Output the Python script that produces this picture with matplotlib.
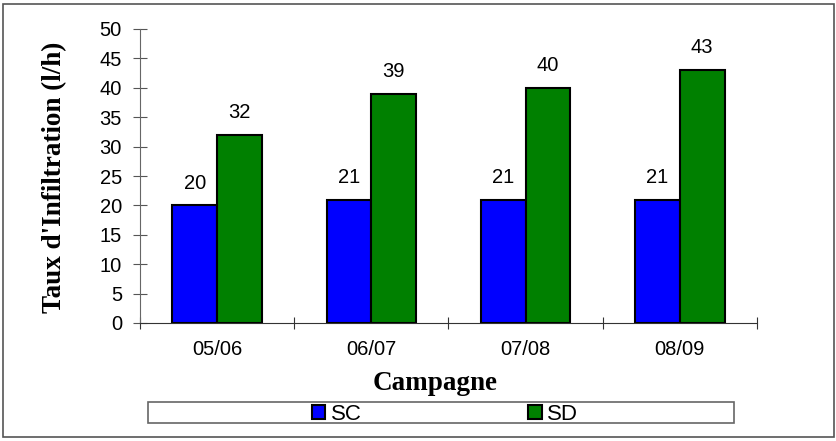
import numpy as np
import matplotlib
matplotlib.use("Agg")
import matplotlib.pyplot as plt
from matplotlib.patches import Rectangle, Patch

campagnes = ["05/06", "06/07", "07/08", "08/09"]
sc = [20, 21, 21, 21]
sd = [32, 39, 40, 43]

plt.rcParams["font.family"] = ["Liberation Sans", "DejaVu Sans"]

fig = plt.figure(figsize=(8.37, 4.41), dpi=100)
ax = fig.add_axes([140/837, 1-323/441, 617/837, 294/441])

# cadre autour du graphique
fig.patches.append(Rectangle((3/837, 4/441), 831/837, 433/441, transform=fig.transFigure,
                             fill=False, edgecolor="#555555", lw=1.2))

x = np.arange(len(campagnes))
w = 0.29
b1 = ax.bar(x - w/2, sc, w, color="#0000ff", edgecolor="black", lw=1.5, label="SC")
b2 = ax.bar(x + w/2, sd, w, color="#008000", edgecolor="black", lw=1.5, label="SD")

for bars, vals in [(b1, sc), (b2, sd)]:
    for r, v in zip(bars, vals):
        ax.text(r.get_x() + r.get_width()/2, v + 3.8, str(v), ha="center", va="center", fontsize=14.5)

ax.set_xlim(-0.5, len(campagnes) - 0.5)
ax.set_ylim(0, 50)
ax.set_yticks(range(0, 51, 5))
ax.set_xticks(np.arange(-0.5, len(campagnes), 1.0))
ax.set_xticklabels([])
ax.set_xticks(x, minor=True)
ax.set_xticklabels(campagnes, minor=True, fontsize=14.5)
ax.tick_params(axis="x", which="minor", length=0, pad=12)
ax.tick_params(axis="x", which="major", direction="inout", length=9, color="#333333")
ax.tick_params(axis="y", direction="inout", length=10, color="#555555", labelsize=14.5, pad=8)

for s in ["top", "right"]:
    ax.spines[s].set_visible(False)
ax.spines["left"].set_color("#666666")
ax.spines["bottom"].set_color("#333333")

fig.text(55/837, 1-177/441, "Taux d'Infiltration (l/h)", family="Liberation Serif",
         fontweight="bold", fontsize=19.5, rotation=90, ha="center", va="center")
fig.text(435/837, 1-383/441, "Campagne", family="Liberation Serif", fontweight="bold",
         fontsize=19.5, ha="center", va="center")

# légende
fig.patches.append(Rectangle((148/837, 1-423/441), 586/837, 21/441, transform=fig.transFigure,
                             fill=False, edgecolor="#666666", lw=1.2))
handles = [Patch(facecolor="#0000ff", edgecolor="black", lw=1.5),
           Patch(facecolor="#008000", edgecolor="black", lw=1.5)]
fig.legend(handles, ["SC", "SD"], ncol=2, frameon=False, loc="center",
           bbox_to_anchor=(445/837, 1-414/441), fontsize=16, handlelength=0.6,
           handleheight=0.6, handletextpad=0.25, columnspacing=7.5,
           borderpad=0, borderaxespad=0)

fig.savefig("out.png", dpi=100)
